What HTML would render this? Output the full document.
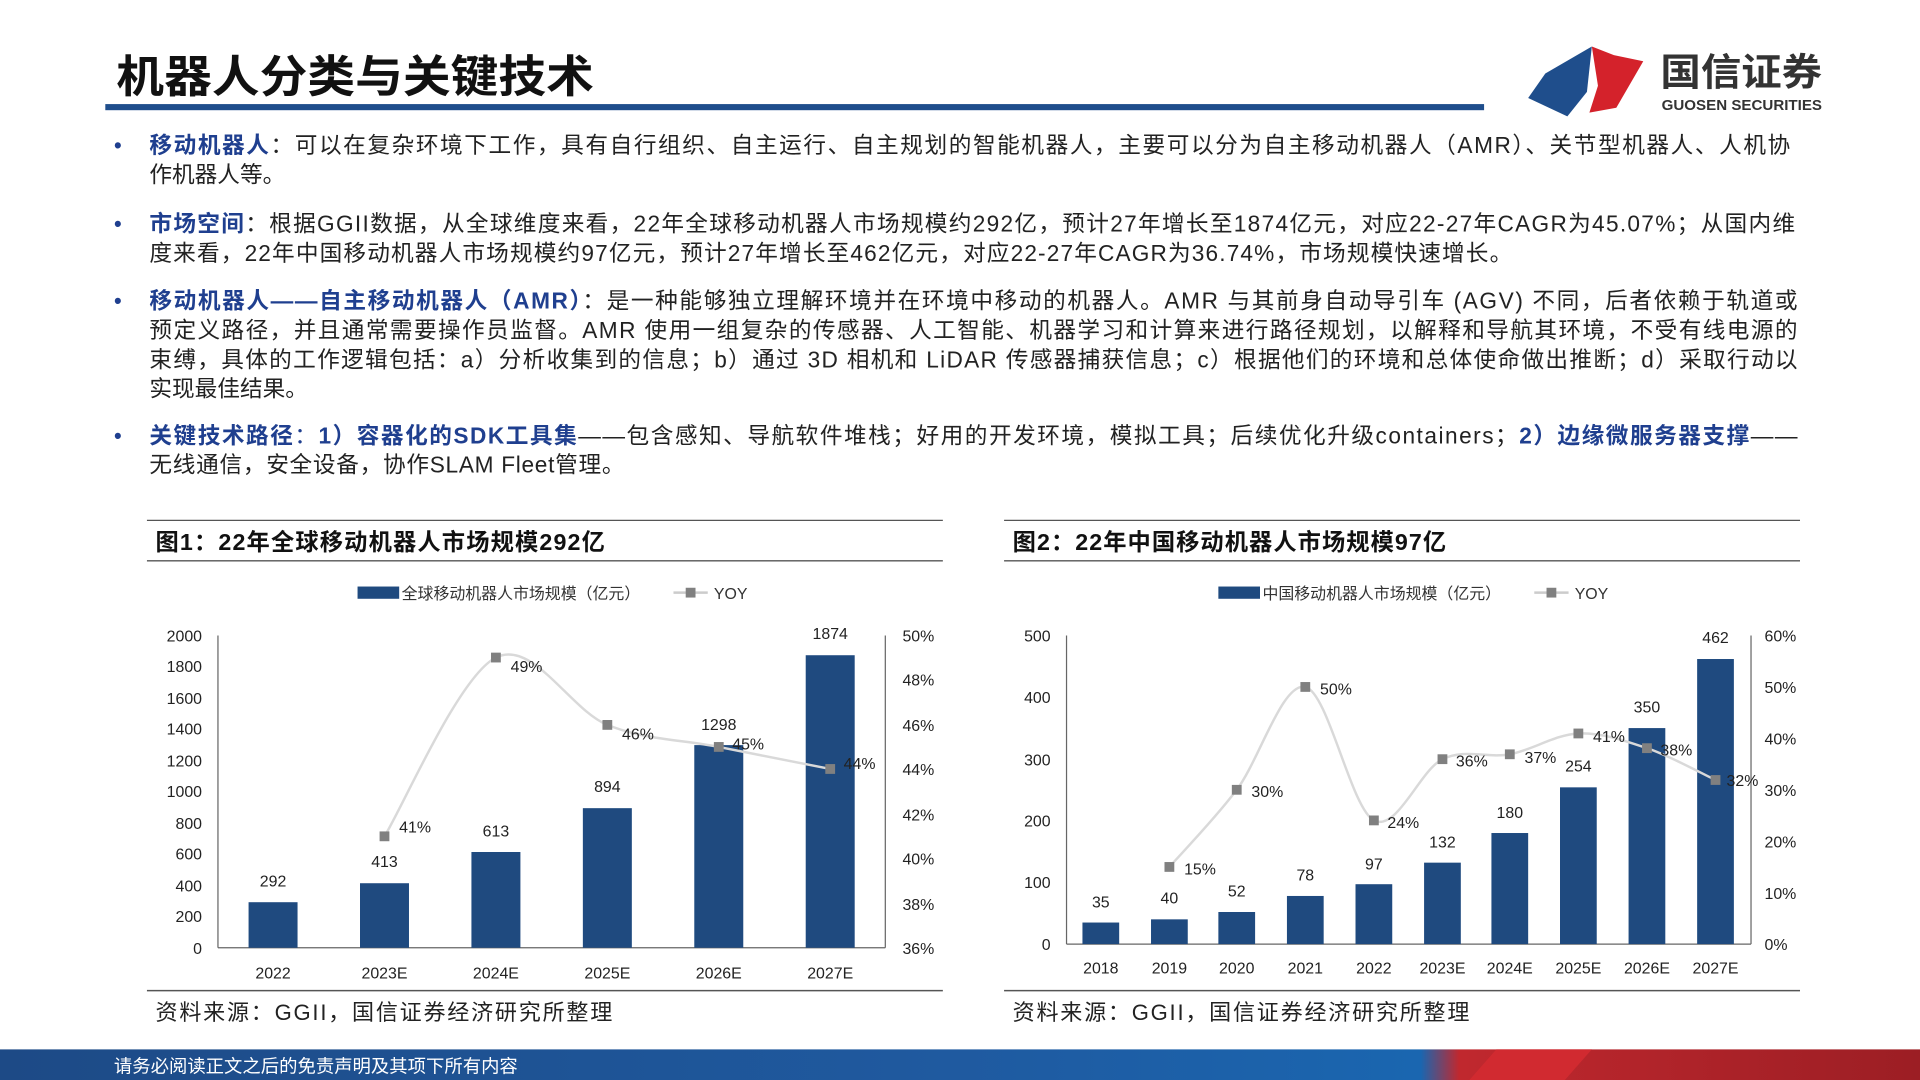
<!DOCTYPE html>
<html><head><meta charset="utf-8"><style>
html,body{margin:0;padding:0;background:#fff;width:1920px;height:1080px;overflow:hidden}
svg{display:block}
text{font-family:"Liberation Sans","Noto Sans CJK SC",sans-serif}
</style></head><body>
<svg width="1920" height="1080" viewBox="0 0 1568 882" xmlns="http://www.w3.org/2000/svg">
<defs>
<linearGradient id="ft" x1="0" x2="1" y1="0" y2="0">
<stop offset="0" stop-color="#1d4a86"/><stop offset="0.5" stop-color="#1f5aa0"/><stop offset="0.74" stop-color="#1a66b0"/><stop offset="0.76" stop-color="#c0282e"/><stop offset="1" stop-color="#9c1e24"/>
</linearGradient>
</defs>
<!-- title -->
<text x="95" y="75" font-size="36" font-weight="bold" fill="#111" textLength="390" lengthAdjust="spacingAndGlyphs">机器人分类与关键技术</text>
<rect x="86" y="85" width="1126" height="5" fill="#1f4e8c"/>
<!-- logo -->
<polygon points="1262,60 1300,38 1296,75 1280,95 1248,80" fill="#1f4e8c"/>
<polygon points="1300,38 1318,45 1342,50 1320,88 1298,92 1305,70" fill="#d4222b"/>
<text x="1356" y="70" font-size="31" font-weight="bold" fill="#333" textLength="132" lengthAdjust="spacingAndGlyphs">国信证券</text>
<text x="1357" y="90" font-size="12" font-weight="bold" fill="#333" textLength="131" lengthAdjust="spacingAndGlyphs">GUOSEN SECURITIES</text>
<!-- bullets -->
<g font-size="18.5" fill="#222">
<text x="93" y="125" fill="#1f3f8f">•</text>
<text x="122" y="125" textLength="1340" lengthAdjust="spacing"><tspan fill="#1f3f8f" font-weight="bold">移动机器人</tspan>：可以在复杂环境下工作，具有自行组织、自主运行、自主规划的智能机器人，主要可以分为自主移动机器人（AMR）、关节型机器人、人机协</text>
<text x="122" y="149">作机器人等。</text>
<text x="93" y="189" fill="#1f3f8f">•</text>
<text x="122" y="189" textLength="1344" lengthAdjust="spacing"><tspan fill="#1f3f8f" font-weight="bold">市场空间</tspan>：根据GGII数据，从全球维度来看，22年全球移动机器人市场规模约292亿，预计27年增长至1874亿元，对应22-27年CAGR为45.07%；从国内维</text>
<text x="122" y="213" textLength="1113" lengthAdjust="spacing">度来看，22年中国移动机器人市场规模约97亿元，预计27年增长至462亿元，对应22-27年CAGR为36.74%，市场规模快速增长。</text>
<text x="93" y="252" fill="#1f3f8f">•</text>
<text x="122" y="252" textLength="1346" lengthAdjust="spacing"><tspan fill="#1f3f8f" font-weight="bold">移动机器人——自主移动机器人（AMR）</tspan>：是一种能够独立理解环境并在环境中移动的机器人。AMR 与其前身自动导引车 (AGV) 不同，后者依赖于轨道或</text>
<text x="122" y="276" textLength="1346" lengthAdjust="spacing">预定义路径，并且通常需要操作员监督。AMR 使用一组复杂的传感器、人工智能、机器学习和计算来进行路径规划，以解释和导航其环境，不受有线电源的</text>
<text x="122" y="300" textLength="1346" lengthAdjust="spacing">束缚，具体的工作逻辑包括：a）分析收集到的信息；b）通过 3D 相机和 LiDAR 传感器捕获信息；c）根据他们的环境和总体使命做出推断；d）采取行动以</text>
<text x="122" y="324">实现最佳结果。</text>
<text x="93" y="362" fill="#1f3f8f">•</text>
<text x="122" y="362" textLength="1346" lengthAdjust="spacing"><tspan fill="#1f3f8f" font-weight="bold">关键技术路径</tspan><tspan fill="#1f3f8f">：</tspan><tspan fill="#1f3f8f" font-weight="bold">1）容器化的SDK工具集</tspan>——包含感知、导航软件堆栈；好用的开发环境，模拟工具；后续优化升级containers；<tspan fill="#1f3f8f" font-weight="bold">2）边缘微服务器支撑</tspan>——</text>
<text x="122" y="386" textLength="388" lengthAdjust="spacing">无线通信，安全设备，协作SLAM Fleet管理。</text>
</g>

<!-- Chart 1 -->
<g>
<line x1="120" y1="425" x2="770" y2="425" stroke="#555" stroke-width="1"/>
<text x="127" y="449" font-size="19" font-weight="bold" fill="#111" textLength="367" lengthAdjust="spacing">图1：22年全球移动机器人市场规模292亿</text>
<line x1="120" y1="458" x2="770" y2="458" stroke="#555" stroke-width="1.2"/>
<rect x="292" y="479" width="34" height="10" fill="#1f4a7f"/>
<text x="328" y="489" font-size="13" fill="#333">全球移动机器人市场规模（亿元）</text>
<line x1="550" y1="484" x2="578" y2="484" stroke="#ccc" stroke-width="2"/>
<rect x="560" y="480" width="8" height="8" fill="#808080"/>
<text x="583" y="489" font-size="13" fill="#333">YOY</text>
<g font-size="13" fill="#222" text-anchor="end">
<text x="165" y="779">0</text><text x="165" y="753">200</text><text x="165" y="728">400</text><text x="165" y="702">600</text><text x="165" y="677">800</text><text x="165" y="651">1000</text><text x="165" y="626">1200</text><text x="165" y="600">1400</text><text x="165" y="575">1600</text><text x="165" y="549">1800</text><text x="165" y="524">2000</text>
</g>
<g font-size="13" fill="#222">
<text x="737" y="779">36%</text><text x="737" y="743">38%</text><text x="737" y="706">40%</text><text x="737" y="670">42%</text><text x="737" y="633">44%</text><text x="737" y="597">46%</text><text x="737" y="560">48%</text><text x="737" y="524">50%</text>
</g>
<line x1="178" y1="519" x2="178" y2="774" stroke="#666"/>
<line x1="723" y1="519" x2="723" y2="774" stroke="#666"/>
<line x1="178" y1="774" x2="723" y2="774" stroke="#666"/>
<g fill="#1f4a7f">
<rect x="203" y="736.8" width="40" height="37.2"/>
<rect x="294" y="721.3" width="40" height="52.7"/>
<rect x="385" y="695.8" width="40" height="78.2"/>
<rect x="476" y="660" width="40" height="114"/>
<rect x="567" y="608.5" width="40" height="165.5"/>
<rect x="658" y="535.1" width="40" height="238.9"/>
</g>
<g font-size="13" fill="#222" text-anchor="middle">
<text x="223" y="724">292</text><text x="314" y="708">413</text><text x="405" y="683">613</text><text x="496" y="647">894</text><text x="587" y="596">1298</text><text x="678" y="522">1874</text>
<text x="223" y="799">2022</text><text x="314" y="799">2023E</text><text x="405" y="799">2024E</text><text x="496" y="799">2025E</text><text x="587" y="799">2026E</text><text x="678" y="799">2027E</text>
</g>
<path d="M314,683 C329.2,658.7 374.7,552.2 405,537 C435.3,521.8 465.7,579.8 496,592 C526.3,604.2 556.7,604 587,610 C617.3,616 662.8,625 678,628" fill="none" stroke="#d9d9d9" stroke-width="2"/>
<g fill="#808080">
<rect x="310" y="679" width="8" height="8"/><rect x="401" y="533" width="8" height="8"/><rect x="492" y="588" width="8" height="8"/><rect x="583" y="606" width="8" height="8"/><rect x="674" y="624" width="8" height="8"/>
</g>
<g font-size="13" fill="#222">
<text x="326" y="680">41%</text><text x="417" y="549">49%</text><text x="508" y="604">46%</text><text x="598" y="612">45%</text><text x="689" y="628">44%</text>
</g>
<line x1="120" y1="809" x2="770" y2="809" stroke="#555" stroke-width="1.2"/>
<text x="127" y="833" font-size="18" fill="#222" textLength="373" lengthAdjust="spacing">资料来源：GGII，国信证券经济研究所整理</text>
</g>

<!-- Chart 2 -->
<g>
<line x1="820" y1="425" x2="1470" y2="425" stroke="#555" stroke-width="1"/>
<text x="827" y="449" font-size="19" font-weight="bold" fill="#111" textLength="354" lengthAdjust="spacing">图2：22年中国移动机器人市场规模97亿</text>
<line x1="820" y1="458" x2="1470" y2="458" stroke="#555" stroke-width="1.2"/>
<rect x="995" y="479" width="34" height="10" fill="#1f4a7f"/>
<text x="1031" y="489" font-size="13" fill="#333">中国移动机器人市场规模（亿元）</text>
<line x1="1253" y1="484" x2="1281" y2="484" stroke="#ccc" stroke-width="2"/>
<rect x="1263" y="480" width="8" height="8" fill="#808080"/>
<text x="1286" y="489" font-size="13" fill="#333">YOY</text>
<g font-size="13" fill="#222" text-anchor="end">
<text x="858" y="776">0</text><text x="858" y="725">100</text><text x="858" y="675">200</text><text x="858" y="625">300</text><text x="858" y="574">400</text><text x="858" y="524">500</text>
</g>
<g font-size="13" fill="#222">
<text x="1441" y="776">0%</text><text x="1441" y="734">10%</text><text x="1441" y="692">20%</text><text x="1441" y="650">30%</text><text x="1441" y="608">40%</text><text x="1441" y="566">50%</text><text x="1441" y="524">60%</text>
</g>
<line x1="871" y1="519" x2="871" y2="771" stroke="#666"/>
<line x1="1430" y1="519" x2="1430" y2="771" stroke="#666"/>
<line x1="871" y1="771" x2="1430" y2="771" stroke="#666"/>
<g fill="#1f4a7f">
<rect x="884" y="753.4" width="30" height="17.6"/>
<rect x="940" y="750.8" width="30" height="20.2"/>
<rect x="995" y="744.8" width="30" height="26.2"/>
<rect x="1051" y="731.7" width="30" height="39.3"/>
<rect x="1107" y="722.1" width="30" height="48.9"/>
<rect x="1163" y="704.5" width="30" height="66.5"/>
<rect x="1218" y="680.3" width="30" height="90.7"/>
<rect x="1274" y="643" width="30" height="128"/>
<rect x="1330" y="594.6" width="30" height="176.4"/>
<rect x="1386" y="538.2" width="30" height="232.8"/>
</g>
<g font-size="13" fill="#222" text-anchor="middle">
<text x="899" y="741">35</text><text x="955" y="738">40</text><text x="1010" y="732">52</text><text x="1066" y="719">78</text><text x="1122" y="710">97</text><text x="1178" y="692">132</text><text x="1233" y="668">180</text><text x="1289" y="630">254</text><text x="1345" y="582">350</text><text x="1401" y="525">462</text>
<text x="899" y="795">2018</text><text x="955" y="795">2019</text><text x="1010" y="795">2020</text><text x="1066" y="795">2021</text><text x="1122" y="795">2022</text><text x="1178" y="795">2023E</text><text x="1233" y="795">2024E</text><text x="1289" y="795">2025E</text><text x="1345" y="795">2026E</text><text x="1401" y="795">2027E</text>
</g>
<path d="M955,708 C964.2,697.5 991.5,669.5 1010,645 C1028.5,620.5 1047.3,556.8 1066,561 C1084.7,565.2 1103.3,660.2 1122,670 C1140.7,679.8 1159.5,629 1178,620 C1196.5,611 1214.5,619.5 1233,616 C1251.5,612.5 1270.3,599.8 1289,599 C1307.7,598.2 1326.3,604.7 1345,611 C1363.7,617.3 1391.7,632.7 1401,637" fill="none" stroke="#d9d9d9" stroke-width="2"/>
<g fill="#808080">
<rect x="951" y="704" width="8" height="8"/><rect x="1006" y="641" width="8" height="8"/><rect x="1062" y="557" width="8" height="8"/><rect x="1118" y="666" width="8" height="8"/><rect x="1174" y="616" width="8" height="8"/><rect x="1229" y="612" width="8" height="8"/><rect x="1285" y="595" width="8" height="8"/><rect x="1341" y="607" width="8" height="8"/><rect x="1397" y="633" width="8" height="8"/>
</g>
<g font-size="13" fill="#222">
<text x="967" y="714">15%</text><text x="1022" y="651">30%</text><text x="1078" y="567">50%</text><text x="1133" y="676">24%</text><text x="1189" y="626">36%</text><text x="1245" y="623">37%</text><text x="1301" y="606">41%</text><text x="1356" y="617">38%</text><text x="1410" y="642">32%</text>
</g>
<line x1="820" y1="809" x2="1470" y2="809" stroke="#555" stroke-width="1.2"/>
<text x="827" y="833" font-size="18" fill="#222" textLength="373" lengthAdjust="spacing">资料来源：GGII，国信证券经济研究所整理</text>
</g>

<!-- footer -->
<rect x="0" y="857" width="1568" height="25" fill="url(#ft)"/>
<polygon points="1200,882 1222,857 1300,857 1278,882" fill="#d12a30"/>
<text x="93" y="876" font-size="15" fill="#fff">请务必阅读正文之后的免责声明及其项下所有内容</text>
</svg>
</body></html>
